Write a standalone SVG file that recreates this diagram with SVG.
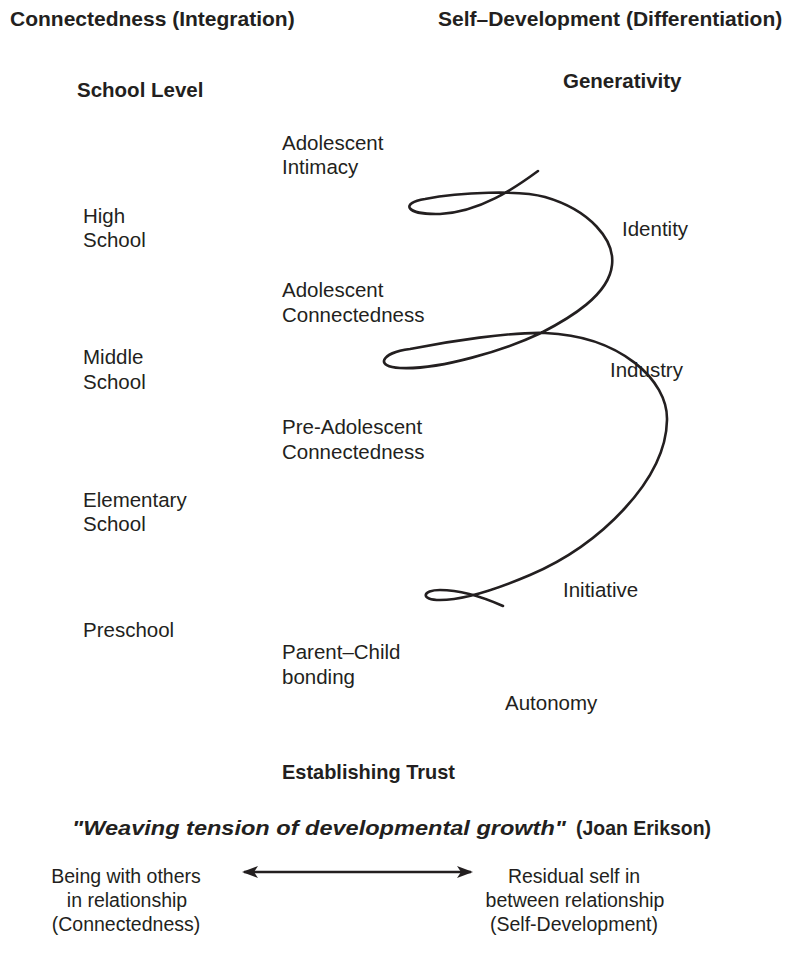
<svg xmlns="http://www.w3.org/2000/svg" width="785" height="962" viewBox="0 0 785 962">
<style>
text{font-family:"Liberation Sans",Arial,sans-serif;fill:#231f20;font-size:20.5px}
.h{font-weight:bold;font-size:21px}
.b{font-weight:bold}
.c{text-anchor:middle;font-size:19.5px}
.curve{fill:none;stroke:#231f20;stroke-width:2.6;stroke-linecap:round;stroke-linejoin:round}
.conn{stroke:#231f20;stroke-width:2.4;fill:none}
</style>
<defs>
<marker id="ah" viewBox="0 0 16 12" refX="14" refY="6" markerWidth="16" markerHeight="12" markerUnits="userSpaceOnUse" orient="auto-start-reverse">
<path d="M0,0 L16,6 L0,12 L4,6 z" fill="#231f20"/>
</marker>
</defs>
<rect width="785" height="962" fill="#fff"/>
<g id="headers">
<text class="h" x="10" y="26">Connectedness (Integration)</text>
<text class="h" x="438" y="26">Self–Development (Differentiation)</text>
</g>
<g id="school-level"><text class="b" x="77" y="97">School Level</text></g>
<g id="generativity"><text class="b" x="563" y="88">Generativity</text></g>
<g id="adolescent-intimacy"><text x="282" y="150">Adolescent</text><text x="282" y="174">Intimacy</text></g>
<g id="high-school"><text x="83" y="223">High</text><text x="83" y="247">School</text></g>
<g id="identity"><text x="622" y="236">Identity</text></g>
<g id="adolescent-connectedness"><text x="282" y="297">Adolescent</text><text x="282" y="322">Connectedness</text></g>
<g id="middle-school"><text x="83" y="364">Middle</text><text x="83" y="389">School</text></g>
<g id="industry"><text x="610" y="377">Industry</text></g>
<g id="pre-adolescent"><text x="282" y="434">Pre-Adolescent</text><text x="282" y="459">Connectedness</text></g>
<g id="elementary-school"><text x="83" y="507">Elementary</text><text x="83" y="531">School</text></g>
<g id="initiative"><text x="563" y="597">Initiative</text></g>
<g id="preschool"><text x="83" y="637">Preschool</text></g>
<g id="parent-child"><text x="282" y="659">Parent–Child</text><text x="282" y="684">bonding</text></g>
<g id="autonomy"><text x="505" y="710">Autonomy</text></g>
<g id="trust"><text class="b" x="282" y="779" textLength="173" lengthAdjust="spacingAndGlyphs">Establishing Trust</text></g>
<g id="quote">
<text class="b" x="72" y="835" font-style="italic" textLength="494" lengthAdjust="spacingAndGlyphs">"Weaving tension of developmental growth"</text>
<text class="b" x="576" y="835" textLength="135" lengthAdjust="spacingAndGlyphs">(Joan Erikson)</text>
</g>
<g id="being-with-others"><text class="c" x="126" y="883">Being with others</text><text class="c" x="127" y="907">in relationship</text><text class="c" x="126" y="931">(Connectedness)</text></g>
<g id="residual-self"><text class="c" x="574" y="883">Residual self in</text><text class="c" x="575" y="907">between relationship</text><text class="c" x="574" y="931">(Self-Development)</text></g>
<g id="connectors">
<path class="curve" d="M538,171 C515,188 480,212 440,214 C405,215 400,203 425,199 C460,192 520,190 545,197 C590,210 615,240 612,265 C609,295 570,318 541,333 C505,350 440,370 400,368 C375,367 380,353 410,349 C450,341 510,332 545,333 C620,336 668,380 667,420 C666,480 600,545 530,575 C490,592 460,600 440,600 C420,600 422,590 440,590 C460,590 485,598 503,606"/>
<line class="conn" x1="244" y1="872" x2="471" y2="872" marker-start="url(#ah)" marker-end="url(#ah)"/>
</g>
</svg>
